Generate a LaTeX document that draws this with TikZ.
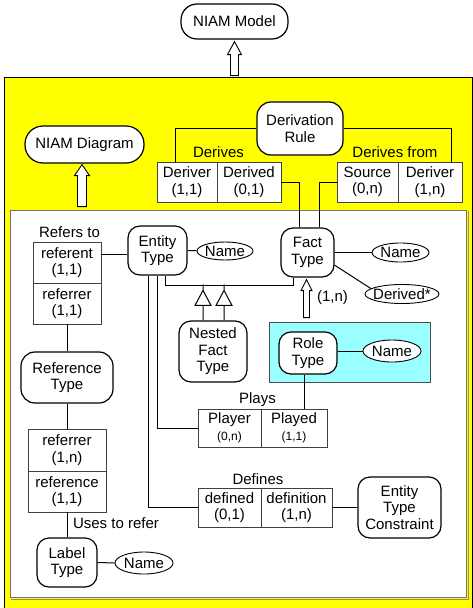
\documentclass[tikz,border=0pt]{standalone}
\usepackage{fontspec}
\setmainfont{Liberation Sans}
\usetikzlibrary{shapes.geometric,calc}
\definecolor{ylw}{RGB}{255,255,0}
\definecolor{cyn}{RGB}{153,255,255}
\newcommand\hollowarr[5]{%
  \draw[line width=0.9pt, fill=white] (#1) -- ++(#2,#4) -- ++({#3-#2},0) -- ++(0,#5) -- ++({-2*#3},0) -- ++(0,{-#5}) -- ++({#3-#2},0) -- cycle;}
\newcommand\subtri[1]{%
  \draw[line width=1pt, fill=white] ($(nested.north)+(#1,0)$) -- ++(0,-15) -- ++(-8,0) -- ++(8,-15) -- ++(8,15) -- ++(-8,0) ++(0,-15) -- ++(0,-6);}
\begin{document}
\begin{tikzpicture}[x=1pt,y=-1pt,
  every node/.style={font=\fontsize{15}{16.5}\selectfont},
  ent/.style={draw, line width=1.2pt, rounded corners=12pt, fill=white, align=center, inner sep=0pt},
  attr/.style={draw, ellipse, line width=0.9pt, fill=white, inner xsep=-3pt, inner ysep=0pt},
  rolebox/.style={draw=black!75, line width=0.9pt, fill=white, align=center, inner sep=0pt},
  lbl/.style={inner sep=0pt, anchor=base},
  conn/.style={line width=1pt}
]
\useasboundingbox (0,0) rectangle (473,608);
% containers
\node[draw, fill=ylw, line width=0.8pt, anchor=north west, minimum width=468pt, minimum height=545pt, inner sep=0pt] (ybox) at (4,77) {};
\node[draw=black!55, fill=white, line width=1.1pt, anchor=north west, minimum width=456pt, minimum height=387pt, inner sep=0pt] (wbox) at (10,210) {};
\draw[black!45, line width=1.2pt] ($(wbox.north east)+(1,1)$) -- ($(wbox.south east)+(1,1)$) -- ($(wbox.south west)+(1,1)$);
\node[draw=black!70, fill=cyn, line width=0.9pt, minimum width=161pt, minimum height=60pt, inner sep=0pt] (cbox) at (349.5,352) {};

% entity nodes
\node[ent, rounded corners=16pt, minimum width=107pt, minimum height=35pt] (model) at (234.5,21.5) {NIAM Model};
\node[ent, rounded corners=18pt, minimum width=119pt, minimum height=37pt] (diag) at (84.5,144.5) {NIAM Diagram};
\node[ent, rounded corners=14pt, minimum width=86pt, minimum height=53pt] (drule) at (300,128.5) {Derivation\\Rule};
\node[ent, minimum width=53pt, minimum height=49pt] (fact) at (307.5,252.5) {Fact\\Type};
\node[ent, minimum width=59pt, minimum height=49pt] (et) at (157.5,250.5) {Entity\\Type};
\node[ent, minimum width=68pt, minimum height=61pt] (nested) at (213,351.5) {Nested\\Fact\\Type};
\node[ent, minimum width=58pt, minimum height=42pt] (role) at (308,353) {Role\\Type};
\node[ent, minimum width=83pt, minimum height=61pt] (etc) at (399.5,507.5) {Entity\\Type\\Constraint};
\node[ent, rounded corners=14pt, minimum width=92pt, minimum height=51pt] (reftype) at (67,377.5) {Reference\\Type};
\node[ent, minimum width=60pt, minimum height=49pt] (labeltype) at (67,562.5) {Label\\Type};

% attribute ellipses
\node[attr, minimum width=57pt, minimum height=19pt] (fname) at (400.5,252.5) {Name};
\node[attr, minimum width=74pt, minimum height=19pt] (dstar) at (402,294) {Derived*};
\node[attr, minimum width=56pt, minimum height=18pt] (etname) at (225,251) {Name};
\node[attr, minimum width=58pt, minimum height=22pt] (rname) at (392,351) {Name};
\node[attr, minimum width=58pt, minimum height=22pt] (lname) at (144,563) {Name};

% role boxes
\node[rolebox, minimum width=60pt, minimum height=40pt] (deriver1) at (187,182) {Deriver\\(1,1)};
\node[rolebox, minimum width=64pt, minimum height=40pt] (derived) at (249,182) {Derived\\(0,1)};
\node[rolebox, minimum width=61pt, minimum height=40pt] (source) at (367.5,182) {Source\\(0,n)};
\node[rolebox, minimum width=64pt, minimum height=40pt] (deriver2) at (430,182) {Deriver\\(1,n)};
\node[rolebox, minimum width=68pt, minimum height=41pt] (referent) at (67,262.5) {referent\\(1,1)};
\node[rolebox, minimum width=68pt, minimum height=41pt] (referrer) at (67,303.5) {referrer\\(1,1)};
\node[rolebox, minimum width=78pt, minimum height=42pt] (refr2) at (67,450) {referrer\\(1,n)};
\node[rolebox, minimum width=78pt, minimum height=41pt] (reference) at (67,491.5) {reference\\(1,1)};
\node[rolebox, minimum width=63pt, minimum height=38pt] (player) at (229.5,428) {Player\\{\fontsize{12}{13}\selectfont (0,n)}};
\node[rolebox, minimum width=66pt, minimum height=38pt] (played) at (294,428) {Played\\{\fontsize{12}{13}\selectfont (1,1)}};
\node[rolebox, minimum width=63pt, minimum height=39pt] (defined) at (229.5,507.5) {defined\\(0,1)};
\node[rolebox, minimum width=71pt, minimum height=39pt] (definition) at (296.5,507.5) {definition\\(1,n)};

% labels
\node[lbl] (lderives) at (218.5,157) {Derives};
\node[lbl] (lderfrom) at (395,157) {Derives from};
\node[lbl] (lrefers) at (69.5,237) {Refers to};
\node[lbl] (lplays) at (257.5,403) {Plays};
\node[lbl] (ldefines) at (258,484.5) {Defines};
\node[lbl] (luses) at (116,528) {Uses to refer};
\node[lbl] (lonen) at (332.5,301) {(1,n)};

% connectors
\draw[conn] (drule.west) -| ($(deriver1.north west)+(19,0)$);
\draw[conn] (drule.east) -| ($(deriver2.north east)+(-11,0)$);
\draw[conn] (derived.east) -| ($(fact.north)+(-8.5,0)$);
\draw[conn] (source.west) -| ($(fact.north)+(11.5,0)$);
\draw[conn] (fact.east) -- (fname);
\draw[conn] (fact.-25) -- (dstar.170);
\draw[conn] (et.east) -- (etname);
\draw[conn] (rname.west) -- (rname.west -| role.east);
\draw[conn] (labeltype.east) -- (lname.west);
\draw[conn] (definition.east) -- (etc.west);
\coordinate (rl) at ($(referent.east)+(0,-8)$);
\draw[conn] (rl) -- (rl -| et.west);
\draw[conn] (referrer.south) -- (reftype.north);
\draw[conn] (reftype.south) -- (refr2.north);
\draw[conn] (reference.south) -- (labeltype.north);
\draw[conn] (et.south) |- (player.west);
\coordinate (e2) at ($(et.south)+(-9.5,0)$);
\draw[conn] (e2) |- (defined.west);
\coordinate (e3) at ($(et.south)+(7.5,0)$);
\draw[conn] (e3) -- ++(0,10) -| ($(fact.south)+(-14.5,0)$);
\subtri{-10}
\subtri{11}
\coordinate (rs) at ($(role.south)+(-4,0)$);
\draw[conn] (rs) -- (rs |- played.north);

% hollow arrows
\coordinate (a1) at ($(model.south)+(0,2)$);
\hollowarr{a1}{7}{4}{13}{21}
\coordinate (a2) at ($(diag.south)+(-2.5,1)$);
\hollowarr{a2}{7.5}{4.5}{11}{31}
\coordinate (a3) at ($(fact.south)+(-1,2)$);
\hollowarr{a3}{5.5}{3}{11}{27}
\end{tikzpicture}
\end{document}
